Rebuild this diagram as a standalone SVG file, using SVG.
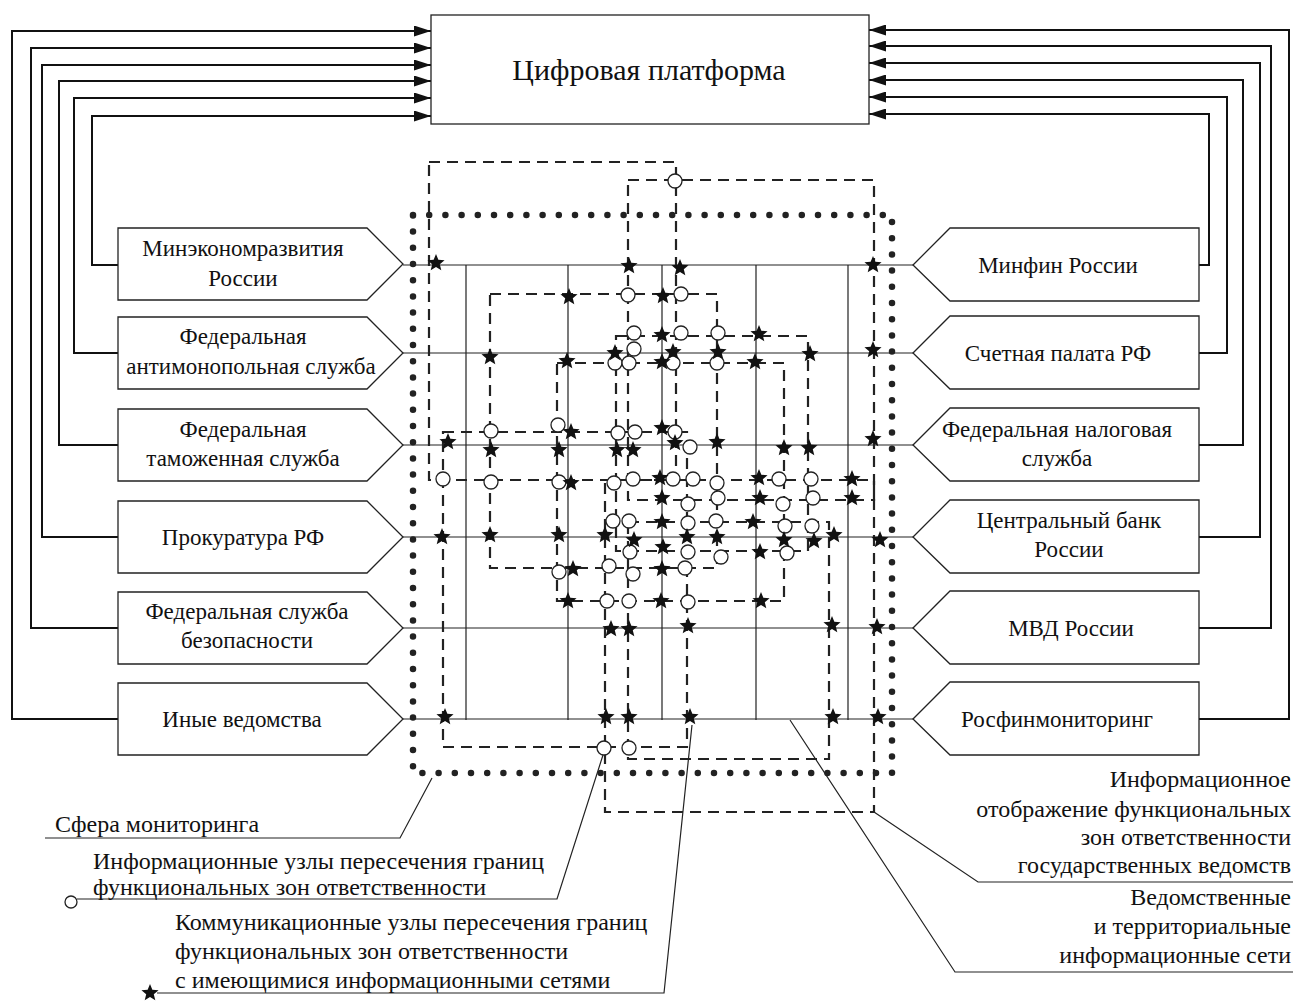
<svg xmlns="http://www.w3.org/2000/svg" xmlns:xlink="http://www.w3.org/1999/xlink" width="1296" height="1001" viewBox="0 0 1296 1001">
<style>
.t{font-family:"Liberation Serif","Times New Roman",serif;font-size:23px;fill:#111;}
.l{font-family:"Liberation Serif","Times New Roman",serif;font-size:24px;fill:#111;}
.tt{font-family:"Liberation Serif","Times New Roman",serif;font-size:30px;fill:#111;}
.box{fill:#fff;stroke:#222;stroke-width:1.3;}
.con{fill:none;stroke:#111;stroke-width:2;}
.grid{stroke:#222;stroke-width:1.2;fill:none;}
.zone{fill:none;stroke:#222;stroke-width:2.2;stroke-dasharray:11 7;}
.dots{fill:none;stroke:#222;stroke-width:6.5;stroke-linecap:round;stroke-dasharray:0 16.2;}
.lead{fill:none;stroke:#222;stroke-width:1.2;}
.ci{fill:#fff;stroke:#222;stroke-width:1.3;}
.st{fill:#111;}
</style>
<defs>
<marker id="arr" viewBox="0 0 17 11" refX="17" refY="5.5" markerWidth="17" markerHeight="11" markerUnits="userSpaceOnUse" orient="auto">
<path d="M0,0 L17,5.5 L0,11 z" fill="#111"/>
</marker>
<polygon id="star" class="st" points="0,-9 2.35,-3.24 8.56,-2.78 3.8,1.24 5.29,7.28 0,4 -5.29,7.28 -3.8,1.24 -8.56,-2.78 -2.35,-3.24"/>
<circle id="circ" class="ci" r="7"/>
</defs>
<rect width="1296" height="1001" fill="#fff"/>

<g id="connectors">
<path class="con" d="M118,719 H12 V31 H431" marker-end="url(#arr)"/>
<path class="con" d="M118,628 H31 V48 H431" marker-end="url(#arr)"/>
<path class="con" d="M118,537 H42 V65 H431" marker-end="url(#arr)"/>
<path class="con" d="M118,445 H59 V81 H431" marker-end="url(#arr)"/>
<path class="con" d="M118,353 H74 V98 H431" marker-end="url(#arr)"/>
<path class="con" d="M118,265 H92 V116 H431" marker-end="url(#arr)"/>
<path class="con" d="M1199,265 H1209 V114 H869" marker-end="url(#arr)"/>
<path class="con" d="M1199,353 H1227 V97 H869" marker-end="url(#arr)"/>
<path class="con" d="M1199,445 H1243 V80 H869" marker-end="url(#arr)"/>
<path class="con" d="M1199,537 H1260 V63 H869" marker-end="url(#arr)"/>
<path class="con" d="M1199,628 H1271 V46 H869" marker-end="url(#arr)"/>
<path class="con" d="M1199,719 H1289 V30 H869" marker-end="url(#arr)"/>
</g>

<g id="platform">
<rect class="box" x="431" y="15" width="438" height="109"/>
<text class="tt" x="649" y="80" text-anchor="middle">Цифровая платформа</text>
</g>

<g id="grid">
<path class="grid" d="M403,265 H913 M403,353 H913 M403,445 H913 M403,537 H913 M403,628 H913 M403,719 H913"/>
<path class="grid" d="M466,265 V720 M568,265 V720 M662,265 V720 M756,265 V720 M848,265 V720"/>
</g>

<g id="a-minek">
<polygon class="box" points="118,228 367,228 403,264 367,300 118,300"/>
<text class="t" x="243" y="256" text-anchor="middle">Минэкономразвития</text>
<text class="t" x="243" y="286" text-anchor="middle">России</text>
</g>
<g id="a-fas">
<polygon class="box" points="118,317 367,317 403,353 367,389 118,389"/>
<text class="t" x="243" y="344" text-anchor="middle">Федеральная</text>
<text class="t" x="251" y="374" text-anchor="middle">антимонопольная служба</text>
</g>
<g id="a-fts">
<polygon class="box" points="118,409 367,409 403,445 367,481 118,481"/>
<text class="t" x="243" y="437" text-anchor="middle">Федеральная</text>
<text class="t" x="243" y="466" text-anchor="middle">таможенная служба</text>
</g>
<g id="a-prok">
<polygon class="box" points="118,501 367,501 403,537 367,573 118,573"/>
<text class="t" x="243" y="545" text-anchor="middle">Прокуратура РФ</text>
</g>
<g id="a-fsb">
<polygon class="box" points="118,592 367,592 403,628 367,664 118,664"/>
<text class="t" x="247" y="619" text-anchor="middle">Федеральная служба</text>
<text class="t" x="247" y="648" text-anchor="middle">безопасности</text>
</g>
<g id="a-other">
<polygon class="box" points="118,683 367,683 403,719 367,755 118,755"/>
<text class="t" x="242" y="727" text-anchor="middle">Иные ведомства</text>
</g>

<g id="a-minfin">
<polygon class="box" points="913,265 950,228 1199,228 1199,301 950,301"/>
<text class="t" x="1058" y="273" text-anchor="middle">Минфин России</text>
</g>
<g id="a-sp">
<polygon class="box" points="913,353 950,316 1199,316 1199,389 950,389"/>
<text class="t" x="1058" y="361" text-anchor="middle">Счетная палата РФ</text>
</g>
<g id="a-fns">
<polygon class="box" points="913,445 950,408 1199,408 1199,481 950,481"/>
<text class="t" x="1057" y="437" text-anchor="middle">Федеральная налоговая</text>
<text class="t" x="1057" y="466" text-anchor="middle">служба</text>
</g>
<g id="a-cb">
<polygon class="box" points="913,537 950,500 1199,500 1199,573 950,573"/>
<text class="t" x="1069" y="528" text-anchor="middle">Центральный банк</text>
<text class="t" x="1069" y="557" text-anchor="middle">России</text>
</g>
<g id="a-mvd">
<polygon class="box" points="913,628 950,591 1199,591 1199,664 950,664"/>
<text class="t" x="1071" y="636" text-anchor="middle">МВД России</text>
</g>
<g id="a-rfm">
<polygon class="box" points="913,719 950,682 1199,682 1199,755 950,755"/>
<text class="t" x="1057" y="727" text-anchor="middle">Росфинмониторинг</text>
</g>

<g id="sphere">
<rect class="dots" x="413" y="215" width="479" height="558"/>
</g>

<g id="zones">
<rect class="zone" x="429" y="162" width="247" height="318"/>
<rect class="zone" x="628" y="180" width="246" height="320"/>
<rect class="zone" x="605" y="480" width="269" height="332"/>
<rect class="zone" x="490" y="294" width="227" height="274"/>
<rect class="zone" x="616" y="336" width="192" height="215"/>
<rect class="zone" x="557" y="363" width="227" height="238"/>
<rect class="zone" x="443" y="432" width="244" height="315"/>
<rect class="zone" x="628" y="522" width="201" height="237"/>
</g>

<g id="info-nodes">
<use href="#circ" x="675" y="181"/>
<use href="#circ" x="628" y="295"/><use href="#circ" x="681" y="294"/>
<use href="#circ" x="634" y="333"/><use href="#circ" x="681" y="333"/><use href="#circ" x="718" y="333"/>
<use href="#circ" x="634" y="349"/>
<use href="#circ" x="615" y="363"/><use href="#circ" x="629" y="363"/><use href="#circ" x="673" y="363"/><use href="#circ" x="717" y="363"/>
<use href="#circ" x="558" y="425"/><use href="#circ" x="491" y="431"/><use href="#circ" x="618" y="433"/><use href="#circ" x="635" y="432"/><use href="#circ" x="675" y="432"/>
<use href="#circ" x="690" y="447"/>
<use href="#circ" x="443" y="479"/><use href="#circ" x="491" y="482"/><use href="#circ" x="559" y="482"/><use href="#circ" x="614" y="483"/><use href="#circ" x="633" y="479"/><use href="#circ" x="673" y="479"/><use href="#circ" x="693" y="479"/><use href="#circ" x="717" y="483"/><use href="#circ" x="779" y="479"/><use href="#circ" x="811" y="479"/>
<use href="#circ" x="688" y="504"/><use href="#circ" x="718" y="498"/><use href="#circ" x="783" y="504"/><use href="#circ" x="813" y="498"/>
<use href="#circ" x="613" y="521"/><use href="#circ" x="629" y="521"/><use href="#circ" x="688" y="523"/><use href="#circ" x="716" y="521"/><use href="#circ" x="785" y="526"/><use href="#circ" x="812" y="526"/>
<use href="#circ" x="630" y="552"/><use href="#circ" x="688" y="552"/><use href="#circ" x="721" y="557"/><use href="#circ" x="787" y="553"/>
<use href="#circ" x="559" y="572"/><use href="#circ" x="609" y="566"/><use href="#circ" x="633" y="574"/><use href="#circ" x="685" y="568"/>
<use href="#circ" x="607" y="601"/><use href="#circ" x="629" y="601"/><use href="#circ" x="688" y="602"/>
<use href="#circ" x="604" y="748"/><use href="#circ" x="629" y="748"/>
</g>

<g id="comm-nodes">
<use href="#star" x="436" y="263"/><use href="#star" x="629" y="266"/><use href="#star" x="680" y="268"/><use href="#star" x="873" y="265"/>
<use href="#star" x="569" y="297"/><use href="#star" x="663" y="296"/>
<use href="#star" x="662" y="335"/><use href="#star" x="759" y="334"/>
<use href="#star" x="490" y="357"/><use href="#star" x="615" y="353"/><use href="#star" x="673" y="352"/><use href="#star" x="718" y="352"/><use href="#star" x="810" y="354"/><use href="#star" x="873" y="350"/>
<use href="#star" x="567" y="361"/><use href="#star" x="662" y="362"/><use href="#star" x="755" y="362"/>
<use href="#star" x="571" y="432"/><use href="#star" x="662" y="428"/>
<use href="#star" x="448" y="442"/><use href="#star" x="491" y="450"/><use href="#star" x="559" y="450"/><use href="#star" x="617" y="450"/><use href="#star" x="633" y="450"/><use href="#star" x="675" y="443"/><use href="#star" x="717" y="442"/><use href="#star" x="784" y="448"/><use href="#star" x="809" y="448"/><use href="#star" x="873" y="439"/>
<use href="#star" x="571" y="483"/><use href="#star" x="660" y="478"/><use href="#star" x="759" y="478"/><use href="#star" x="852" y="479"/>
<use href="#star" x="662" y="498"/><use href="#star" x="760" y="498"/><use href="#star" x="852" y="498"/>
<use href="#star" x="662" y="522"/><use href="#star" x="753" y="522"/>
<use href="#star" x="442" y="537"/><use href="#star" x="490" y="535"/><use href="#star" x="559" y="535"/><use href="#star" x="605" y="535"/><use href="#star" x="634" y="540"/><use href="#star" x="687" y="537"/><use href="#star" x="717" y="537"/><use href="#star" x="784" y="540"/><use href="#star" x="814" y="541"/><use href="#star" x="834" y="535"/><use href="#star" x="880" y="540"/>
<use href="#star" x="663" y="547"/><use href="#star" x="760" y="552"/>
<use href="#star" x="573" y="569"/><use href="#star" x="662" y="569"/>
<use href="#star" x="568" y="601"/><use href="#star" x="661" y="601"/><use href="#star" x="761" y="601"/>
<use href="#star" x="611" y="629"/><use href="#star" x="629" y="629"/><use href="#star" x="688" y="626"/><use href="#star" x="832" y="625"/><use href="#star" x="877" y="627"/>
<use href="#star" x="445" y="717"/><use href="#star" x="606" y="717"/><use href="#star" x="629" y="717"/><use href="#star" x="690" y="717"/><use href="#star" x="833" y="717"/><use href="#star" x="878" y="717"/>
</g>

<g id="label-sphere">
<path class="lead" d="M45,838 H400 L432,778"/>
<text class="l" x="55" y="832">Сфера мониторинга</text>
</g>
<g id="label-info">
<circle class="ci" cx="71" cy="902" r="6"/>
<path class="lead" d="M77,899 H557 L603,755"/>
<text class="l" x="93" y="869">Информационные узлы пересечения границ</text>
<text class="l" x="93" y="895">функциональных зон ответственности</text>
</g>
<g id="label-comm">
<use href="#star" x="150" y="993"/>
<path class="lead" d="M157,993 H664 L692,725"/>
<text class="l" x="175" y="930">Коммуникационные узлы пересечения границ</text>
<text class="l" x="175" y="959">функциональных зон ответственности</text>
<text class="l" x="175" y="988">с имеющимися информационными сетями</text>
</g>
<g id="label-zones">
<path class="lead" d="M874,812 L978,882 H1293"/>
<text class="l" x="1291" y="787" text-anchor="end">Информационное</text>
<text class="l" x="1291" y="817" text-anchor="end">отображение функциональных</text>
<text class="l" x="1291" y="845" text-anchor="end">зон ответственности</text>
<text class="l" x="1291" y="873" text-anchor="end">государственных ведомств</text>
</g>
<g id="label-nets">
<path class="lead" d="M790,720 L955,972 H1293"/>
<text class="l" x="1291" y="905" text-anchor="end">Ведомственные</text>
<text class="l" x="1291" y="934" text-anchor="end">и территориальные</text>
<text class="l" x="1291" y="963" text-anchor="end">информационные сети</text>
</g>
</svg>
